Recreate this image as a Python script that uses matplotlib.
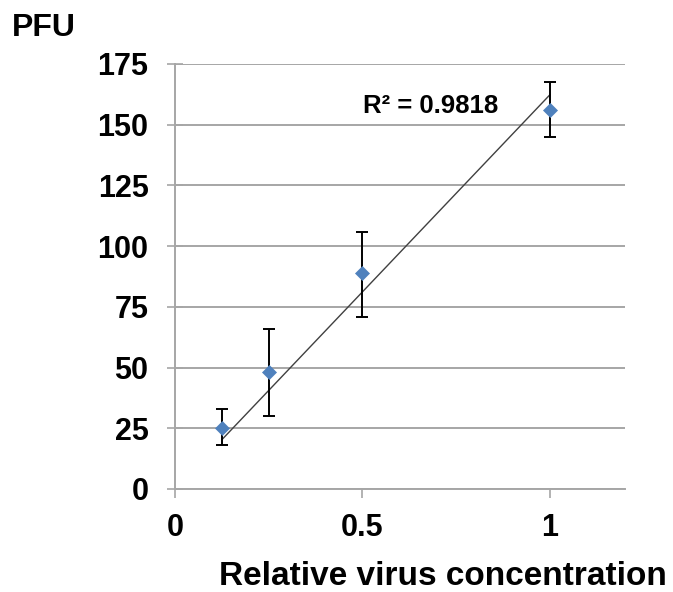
import numpy as np
import matplotlib.pyplot as plt

plt.rcParams['font.family'] = ['Liberation Sans', 'DejaVu Sans']

# relative virus concentration vs PFU (means with error bars)
conc = [0.125, 0.25, 0.5, 1.0]
pfu = [25, 48, 89, 156]
err_low = [7, 18, 18, 11]
err_high = [8, 18, 17, 11.5]
r2_label = 'R² = 0.9818'

x = np.array(conc)
y = np.array(pfu)
# linear trendline with intercept forced to 0
slope = (x * y).sum() / (x * x).sum()

fig = plt.figure(figsize=(6.73, 5.92), dpi=100)
ax = fig.add_axes([0.26, 0.174, 0.6687, 0.718])

ax.set_axisbelow(True)
ax.grid(axis='y', color='#a6a6a6', lw=1.4)
ax.plot([x.min(), x.max()], [slope * x.min(), slope * x.max()], color='#404040', lw=1.0, zorder=2)
ax.errorbar(x, y, yerr=[err_low, err_high], fmt='none', ecolor='black', elinewidth=1.4,
            capsize=4, capthick=1.4, zorder=3)
ax.plot(x, y, 'D', color='#4f81bd', ms=7.5, mec='#4f81bd', mew=0.5, zorder=4)

ax.set_xlim(0, 1.2)
ax.set_ylim(0, 175)
ax.set_yticks(np.arange(0, 176, 25))
ax.set_xticks([0, 0.5, 1])
ax.set_xticklabels(['0', '0.5', '1'])
for s in ['top', 'right']:
    ax.spines[s].set_visible(False)
for s in ['left', 'bottom']:
    ax.spines[s].set_color('#a6a6a6')
    ax.spines[s].set_linewidth(1.4)
ax.tick_params(axis='y', direction='inout', length=12, width=1.2, color='#a6a6a6', pad=13)
ax.tick_params(axis='x', direction='out', length=6.5, width=1.2, color='#a6a6a6', pad=11)
for lab in ax.get_xticklabels() + ax.get_yticklabels():
    lab.set_fontsize(22)
    lab.set_fontweight('bold')

ax.text(0.502, 155, r2_label, fontsize=18.5, fontweight='bold', ha='left', va='baseline')
fig.text(0.018, 0.939, 'PFU', fontsize=23, fontweight='bold', ha='left', va='baseline')
fig.text(0.991, 0.012, 'Relative virus concentration', fontsize=24, fontweight='bold',
         ha='right', va='baseline')

fig.savefig('out.png', dpi=100)
